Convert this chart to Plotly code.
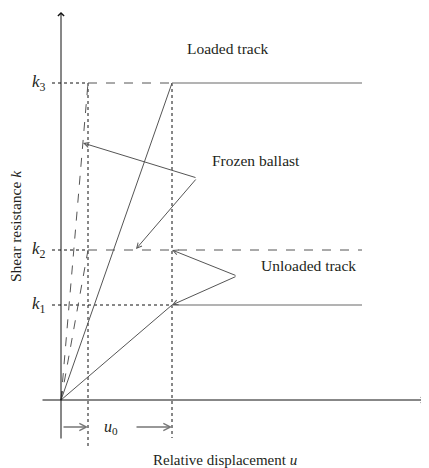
import plotly.graph_objects as go

# ---- data (units: k levels and displacement u) ----
k_names = ["1", "2", "3"]
k_values = [0.95, 1.50, 3.17]          # k1, k2, k3
u_frozen = 0.27                         # u0: frozen ballast yield displacement
u_loaded = 1.11                         # loaded / unloaded track yield displacement
u_end = 3.01                            # end of plastic plateau
frozen_vertex = (1.36, 2.22)
frozen_heads = [(0.22, 2.57), (0.75, 1.51)]
unloaded_vertex = (1.76, 1.24)
labels = ["Loaded track", "Frozen ballast", "Unloaded track"]
label_pos = [(1.67, 3.52), (1.95, 2.40), (2.47, 1.35)]

k1, k2, k3 = k_values
FONT = "Liberation Serif"
TXT = "#231f20"
SLOPE = "#555555"
PLATEAU = "#9a9a9a"

fig = go.Figure()

def line(xs, ys, color, width=1, dash="solid"):
    fig.add_trace(go.Scatter(x=xs, y=ys, mode="lines",
                             line=dict(color=color, width=width, dash=dash),
                             hoverinfo="skip", showlegend=False))

# dotted guide lines
line([-0.09, u_frozen], [k3, k3], "#111", 1, "dot")
line([-0.09, u_frozen], [k2, k2], "#111", 1, "dot")
line([-0.09, u_loaded], [k1, k1], "#111", 1, "dot")
line([u_frozen, u_frozen], [k3, -0.48], "#111", 1, "dot")
line([u_loaded, u_loaded], [k3, -0.38], "#111", 1, "dot")

# plateaus
line([u_loaded, u_end], [k3, k3], PLATEAU, 1.6)
line([u_loaded, u_end], [k1, k1], PLATEAU, 1.6)
line([u_frozen, u_loaded], [k3, k3], SLOPE, 1, "dash")
line([u_frozen, u_end], [k2, k2], SLOPE, 1, "dash")

# elastic branches
line([0, u_loaded], [0, k3], SLOPE, 1)
line([0, u_loaded], [0, k1], SLOPE, 1)
line([0, u_frozen], [0, k3], SLOPE, 1, "dash")
line([0, u_frozen], [0, k2], SLOPE, 1, "dash")

def arrow(tail, head, color=SLOPE, width=1, head_style=5, size=1.0):
    fig.add_annotation(x=head[0], y=head[1], ax=tail[0], ay=tail[1],
                       xref="x", yref="y", axref="x", ayref="y",
                       text="", showarrow=True, arrowhead=head_style,
                       arrowsize=size, arrowwidth=width, arrowcolor=color)

# axes with arrows
arrow((0, -0.40), (0, 3.88), "#111", 1, 4, 1.2)
arrow((-0.20, 0), (3.64, 0), "#111", 1, 4, 1.2)

# pointer arrows
for h in frozen_heads:
    arrow(frozen_vertex, h)
arrow(unloaded_vertex, (u_loaded, k2))
arrow(unloaded_vertex, (u_loaded, k1))

# u0 arrows
arrow((0.01, -0.27), (u_frozen, -0.27), "#777", 1.4, 5)
arrow((0.74, -0.27), (u_loaded, -0.27), "#777", 1.4, 5)

def text(x, y, s, size=15.5, angle=0):
    fig.add_annotation(x=x, y=y, xref="x", yref="y", text=s, showarrow=False,
                       font=dict(family=FONT, size=size, color=TXT),
                       textangle=angle, xanchor="center", yanchor="middle")

for s, (x, y) in zip(labels, label_pos):
    text(x, y, s)
for n, v in zip(k_names, k_values):
    text(-0.225, v, f"<i>k</i><sub>{n}</sub>", 17)
text(0.50, -0.27, "<i>u</i><sub>0</sub>", 16)
text(1.64, -0.60, "Relative displacement <i>u</i>", 15)
text(-0.46, 1.74, "Shear resistance <i>k</i>", 15.5, -90)

# page has an 8px body margin, so the figure is 8px smaller and its ranges start there
fig.update_layout(
    width=421, height=460,
    margin=dict(l=0, r=0, t=0, b=0),
    paper_bgcolor="white", plot_bgcolor="white",
    xaxis=dict(range=[-0.53, 3.68], visible=False, fixedrange=True),
    yaxis=dict(range=[-0.68, 3.92], visible=False, fixedrange=True),
)
fig.write_html("out.html")
